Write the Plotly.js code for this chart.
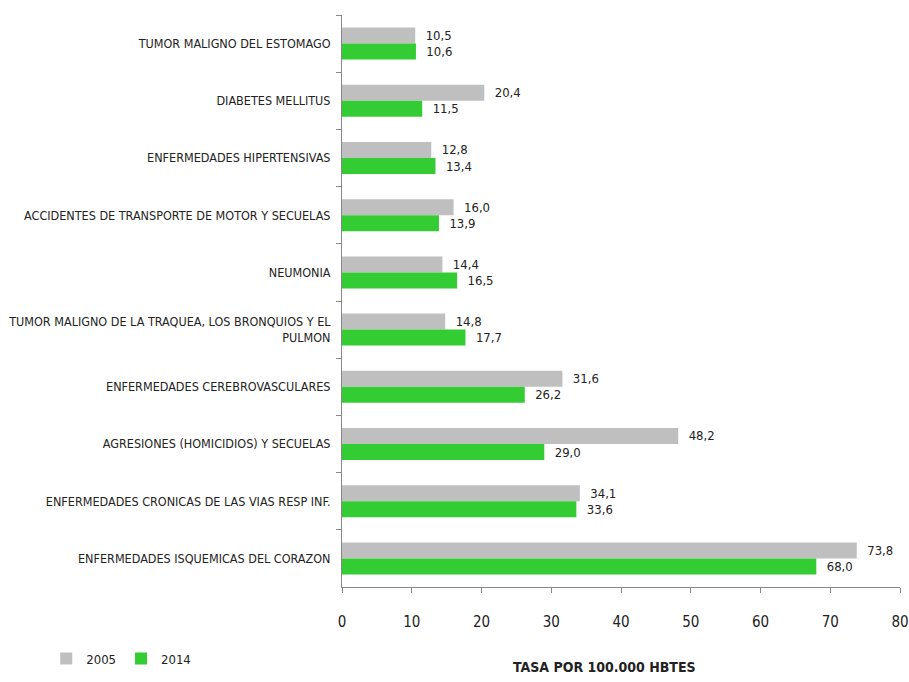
<!DOCTYPE html>
<html>
<head>
<meta charset="utf-8">
<script src="https://cdn.plot.ly/plotly-3.0.1.min.js"></script>
<style>body{margin:0;padding:0;background:#fff}</style>
</head>
<body>
<div id="chart" style="width:909px;height:682px"></div>
<script>
const categories = [
  "TUMOR MALIGNO DEL ESTOMAGO",
  "DIABETES MELLITUS",
  "ENFERMEDADES HIPERTENSIVAS",
  "ACCIDENTES DE TRANSPORTE DE MOTOR Y SECUELAS",
  "NEUMONIA",
  "TUMOR MALIGNO DE LA TRAQUEA, LOS BRONQUIOS Y EL<br>PULMON",
  "ENFERMEDADES CEREBROVASCULARES",
  "AGRESIONES (HOMICIDIOS) Y SECUELAS",
  "ENFERMEDADES CRONICAS DE LAS VIAS RESP INF.",
  "ENFERMEDADES ISQUEMICAS DEL CORAZON"
];
const values2005 = [10.5, 20.4, 12.8, 16.0, 14.4, 14.8, 31.6, 48.2, 34.1, 73.8];
const values2014 = [10.6, 11.5, 13.4, 13.9, 16.5, 17.7, 26.2, 29.0, 33.6, 68.0];
const xTicks = [0, 10, 20, 30, 40, 50, 60, 70, 80];

const fmt = v => '  ' + v.toFixed(1).replace('.', ',');
const FONT = "'Liberation Sans Narrow', 'DejaVu Sans Condensed', 'Arial Narrow', sans-serif";

const traces = [
  {
    type: 'bar', orientation: 'h', name: '2005',
    y: categories, x: values2005,
    text: values2005.map(fmt), textposition: 'outside', cliponaxis: false,
    textfont: {family: FONT, size: 13, color: '#222'},
    marker: {color: '#bfbfbf'}, hoverinfo: 'x+y'
  },
  {
    type: 'bar', orientation: 'h', name: '2014',
    y: categories, x: values2014,
    text: values2014.map(fmt), textposition: 'outside', cliponaxis: false,
    textfont: {family: FONT, size: 13, color: '#222'},
    marker: {color: '#33cc33'}, hoverinfo: 'x+y'
  }
];

const layout = {
  width: 909, height: 682,
  margin: {l: 342, r: 9, t: 15, b: 92},
  paper_bgcolor: '#fff', plot_bgcolor: '#fff',
  barmode: 'group', bargap: 0.44, bargroupgap: 0,
  font: {family: FONT, size: 12.5, color: '#222'},
  showlegend: true,
  legend: {
    orientation: 'h', x: -0.53, xanchor: 'left', y: -0.125, yanchor: 'middle',
    font: {family: FONT, size: 13, color: '#222'},
    itemwidth: 30, traceorder: 'normal', bgcolor: 'rgba(0,0,0,0)'
  },
  xaxis: {
    range: [0, 80], tickvals: xTicks, ticktext: xTicks.map(String),
    showgrid: false, zeroline: false,
    showline: true, linecolor: '#888', linewidth: 1,
    ticks: 'outside', ticklen: 5, tickcolor: '#888',
    tickfont: {family: FONT, size: 15, color: '#222'},
    ticklabelstandoff: 16,
    fixedrange: true
  },
  yaxis: {
    autorange: 'reversed', type: 'category',
    showgrid: false, zeroline: false,
    showline: true, linecolor: '#888', linewidth: 1,
    ticks: 'outside', ticklen: 5, tickcolor: '#888', tickson: 'boundaries',
    tickfont: {family: FONT, size: 12.5, color: '#222'},
    ticklabelstandoff: 8,
    fixedrange: true
  },
  annotations: [{
    text: '<b>TASA POR 100.000 HBTES</b>', showarrow: false,
    xref: 'paper', yref: 'paper', x: 0.471, y: -0.139,
    xanchor: 'center', yanchor: 'middle',
    font: {family: FONT, size: 14, color: '#222'}
  }]
};

Plotly.newPlot('chart', traces, layout, {displayModeBar: false, responsive: false});
</script>
</body>
</html>
